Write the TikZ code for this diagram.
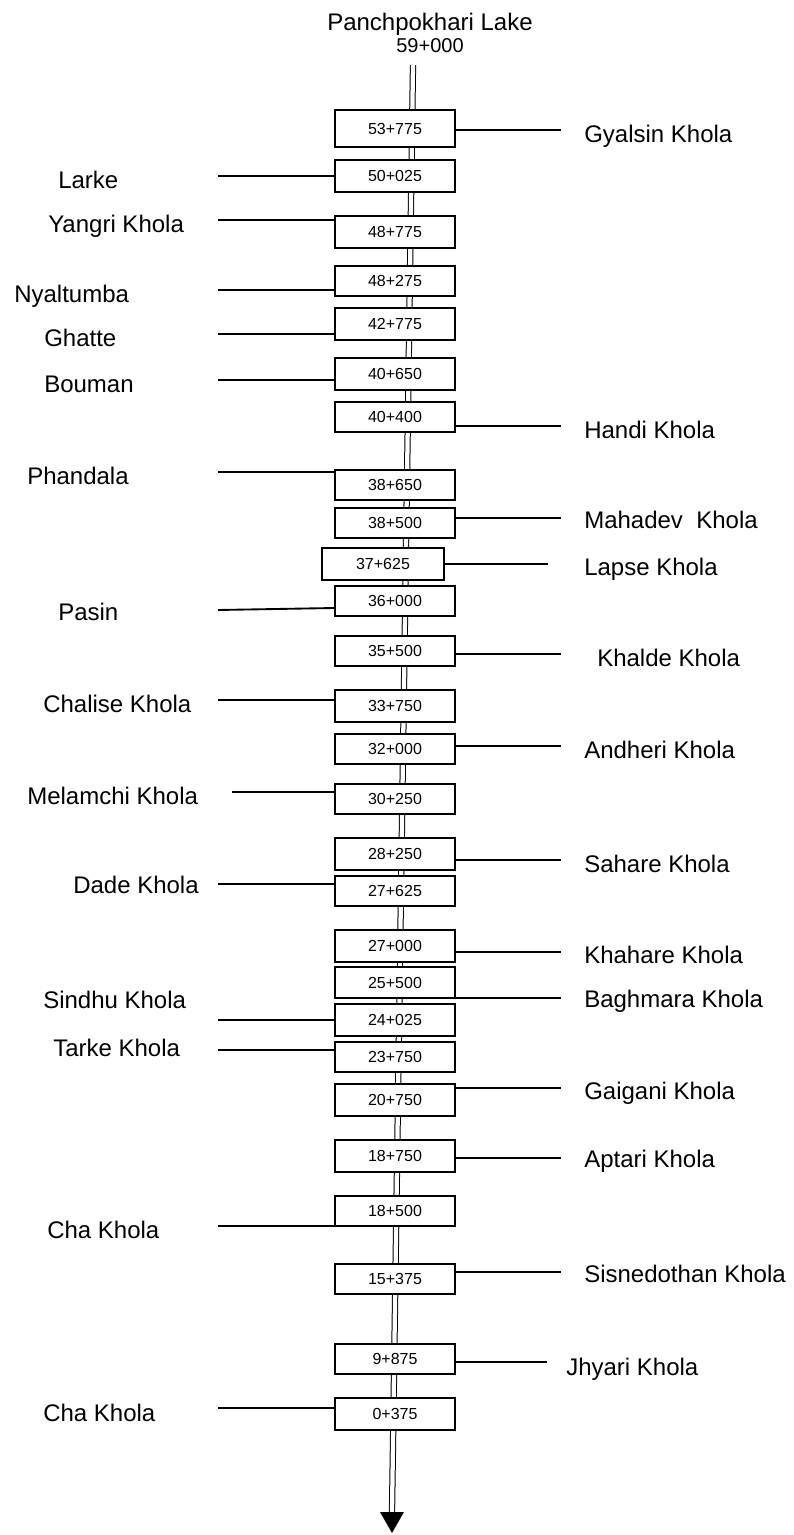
\documentclass[tikz,border=0pt]{standalone}
\usepackage{fontspec}
\setmainfont{Liberation Sans}
\usepackage{tikz}

\tikzset{
  chainage/.style={draw, fill=white, line width=1.4pt, minimum width=90pt, minimum height=22.5pt, inner sep=0pt, font=\fontsize{12}{12}\selectfont},
  trib/.style={anchor=base west, inner sep=0pt, font=\fontsize{18}{18}\selectfont},
  feeder/.style={line width=1.4pt},
  river/.style={double, double distance=3.2pt, line width=0.75pt}
}

\begin{document}
\begin{tikzpicture}[x=0.75pt, y=-0.75pt]
\useasboundingbox (0,0) rectangle (793,1535);
%\draw[step=50,gray,very thin] (0,0) grid (793,1535);

% source and main channel
\node[anchor=base, inner sep=0pt, font=\fontsize{18}{18}\selectfont] (lake) at (430,30) {Panchpokhari Lake};
\node[anchor=base, inner sep=0pt, font=\fontsize{15}{15}\selectfont] (lakech) at (430,52) {59+000};
\coordinate (src) at (413,65);
\coordinate (mouth) at (392,1512);
\draw[river] (src) -- (mouth);
\fill (mouth) ++(-12,0) -- ++(24,0) -- ++(-12,21) -- cycle;

% chainage boxes
\node[chainage, minimum height=27.75pt] (b53775) at (395,128.5) {53+775};
\node[chainage, minimum height=24pt] (b50025) at (395,176) {50+025};
\node[chainage, minimum height=24pt] (b48775) at (395,232) {48+775};
\node[chainage] (b48275) at (395,281) {48+275};
\node[chainage, minimum height=24pt] (b42775) at (395,324) {42+775};
\node[chainage, minimum height=24pt] (b40650) at (395,374) {40+650};
\node[chainage] (b40400) at (395,417) {40+400};
\node[chainage] (b38650) at (395,485) {38+650};
\node[chainage] (b38500) at (395,523) {38+500};
\node[chainage, minimum height=24pt, minimum width=91.5pt] (b37625) at (383,564) {37+625};
\node[chainage] (b36000) at (395,601) {36+000};
\node[chainage] (b35500) at (395,651) {35+500};
\node[chainage, minimum height=24pt] (b33750) at (395,706) {33+750};
\node[chainage] (b32000) at (395,749) {32+000};
\node[chainage] (b30250) at (395,799) {30+250};
\node[chainage, minimum height=24pt] (b28250) at (395,854) {28+250};
\node[chainage] (b27625) at (395,891) {27+625};
\node[chainage, minimum height=24pt] (b27000) at (395,946) {27+000};
\node[chainage, minimum height=23.25pt] (b25500) at (395,982.5) {25+500};
\node[chainage, minimum height=24pt] (b24025) at (395,1020) {24+025};
\node[chainage] (b23750) at (395,1057) {23+750};
\node[chainage, minimum height=24pt] (b20750) at (395,1100) {20+750};
\node[chainage, minimum height=24pt] (b18750) at (395,1156) {18+750};
\node[chainage] (b18500) at (395,1211) {18+500};
\node[chainage] (b15375) at (395,1279) {15+375};
\node[chainage] (b9875) at (395,1359) {9+875};
\node[chainage, minimum height=24pt] (b0375) at (395,1414) {0+375};

% tributaries, right bank
\node[trib] (gyalsin) at (584,142) {Gyalsin Khola};
\node[trib] (handi) at (584,438) {Handi Khola};
\node[trib] (mahadev) at (584,528) {Mahadev~ Khola};
\node[trib] (lapse) at (584,575) {Lapse Khola};
\node[trib] (khalde) at (597,666) {Khalde Khola};
\node[trib] (andheri) at (584,758) {Andheri Khola};
\node[trib] (sahare) at (584,872) {Sahare Khola};
\node[trib] (khahare) at (584,963) {Khahare Khola};
\node[trib] (baghmara) at (584,1007) {Baghmara Khola};
\node[trib] (gaigani) at (584,1099) {Gaigani Khola};
\node[trib] (aptari) at (584,1167) {Aptari Khola};
\node[trib] (sisnedothan) at (584,1282) {Sisnedothan Khola};
\node[trib] (jhyari) at (566,1375) {Jhyari Khola};

% tributaries, left bank
\node[trib] (larke) at (58,188) {Larke};
\node[trib] (yangri) at (48,232) {Yangri Khola};
\node[trib] (nyaltumba) at (14,302) {Nyaltumba};
\node[trib] (ghatte) at (44,346) {Ghatte};
\node[trib] (bouman) at (44,392) {Bouman};
\node[trib] (phandala) at (27,484) {Phandala};
\node[trib] (pasin) at (58,620) {Pasin};
\node[trib] (chalise) at (43,712) {Chalise Khola};
\node[trib] (melamchi) at (27,804) {Melamchi Khola};
\node[trib] (dade) at (73,893) {Dade Khola};
\node[trib] (sindhu) at (43,1008) {Sindhu Khola};
\node[trib] (tarke) at (53,1056) {Tarke Khola};
\node[trib] (cha) at (47,1238) {Cha Khola};
\node[trib] (chalow) at (43,1421) {Cha Khola};

% confluence lines
\coordinate (rgyalsin) at (561,130);
\coordinate (rhandi) at (561,426);
\coordinate (rmahadev) at (561,518);
\coordinate (rlapse) at (548,564);
\coordinate (rkhalde) at (561,654);
\coordinate (randheri) at (561,746);
\coordinate (rsahare) at (561,860);
\coordinate (rkhahare) at (561,952);
\coordinate (rbaghmara) at (561,998);
\coordinate (rgaigani) at (561,1088);
\coordinate (raptari) at (561,1158);
\coordinate (rsisnedothan) at (561,1272);
\coordinate (rjhyari) at (547,1362);
\coordinate (llarke) at (218,176);
\coordinate (lyangri) at (218,220);
\coordinate (lnyaltumba) at (218,290);
\coordinate (lghatte) at (218,334);
\coordinate (lbouman) at (218,380);
\coordinate (lphandala) at (218,472);
\coordinate (lpasin) at (218,610);
\coordinate (lchalise) at (218,700);
\coordinate (lmelamchi) at (232,792);
\coordinate (ldade) at (218,884);
\coordinate (lsindhu) at (218,1020);
\coordinate (ltarke) at (218,1050);
\coordinate (lcha) at (218,1226);
\coordinate (lchalow) at (218,1408);

\draw[feeder] (b53775.east |- rgyalsin) -- (rgyalsin);
\draw[feeder] (b40400.east |- rhandi) -- (rhandi);
\draw[feeder] (b38500.east |- rmahadev) -- (rmahadev);
\draw[feeder] (b37625.east |- rlapse) -- (rlapse);
\draw[feeder] (b35500.east |- rkhalde) -- (rkhalde);
\draw[feeder] (b32000.east |- randheri) -- (randheri);
\draw[feeder] (b28250.east |- rsahare) -- (rsahare);
\draw[feeder] (b27000.east |- rkhahare) -- (rkhahare);
\draw[feeder] (b25500.east |- rbaghmara) -- (rbaghmara);
\draw[feeder] (b20750.east |- rgaigani) -- (rgaigani);
\draw[feeder] (b18750.east |- raptari) -- (raptari);
\draw[feeder] (b15375.east |- rsisnedothan) -- (rsisnedothan);
\draw[feeder] (b9875.east |- rjhyari) -- (rjhyari);
\draw[feeder] (llarke) -- (llarke -| b50025.west);
\draw[feeder] (lyangri) -- (lyangri -| b48775.west);
\draw[feeder] (lnyaltumba) -- (lnyaltumba -| b48275.west);
\draw[feeder] (lghatte) -- (lghatte -| b42775.west);
\draw[feeder] (lbouman) -- (lbouman -| b40650.west);
\draw[feeder] (lphandala) -- (lphandala -| b38650.west);
\draw[feeder] (lpasin) -- ([yshift=-5.25pt]b36000.west);
\draw[feeder] (lchalise) -- (lchalise -| b33750.west);
\draw[feeder] (lmelamchi) -- (lmelamchi -| b30250.west);
\draw[feeder] (ldade) -- (ldade -| b27625.west);
\draw[feeder] (lsindhu) -- (lsindhu -| b24025.west);
\draw[feeder] (ltarke) -- (ltarke -| b23750.west);
\draw[feeder] (lcha) -- (lcha -| b18500.west);
\draw[feeder] (lchalow) -- (lchalow -| b0375.west);

\end{tikzpicture}
\end{document}
